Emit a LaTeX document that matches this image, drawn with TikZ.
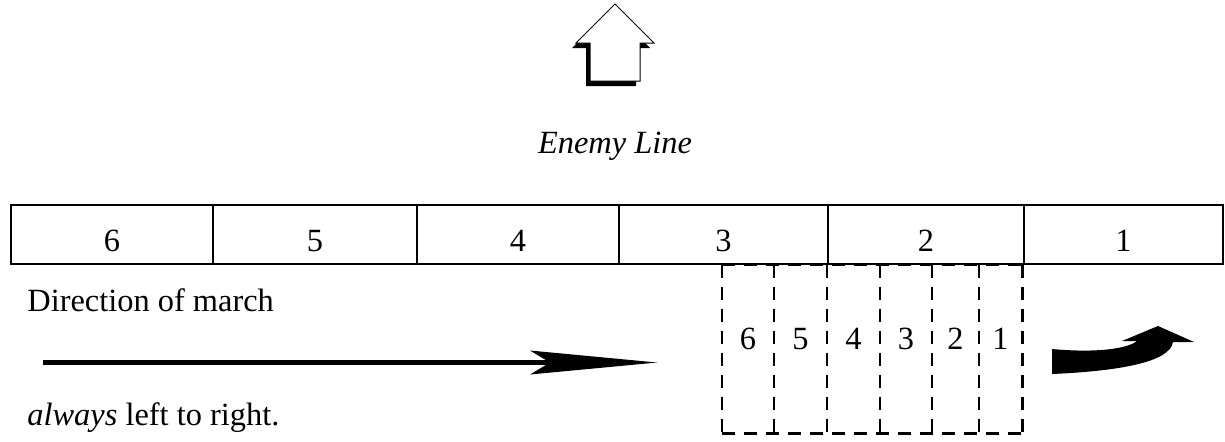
\documentclass[tikz,border=0pt]{standalone}
\usepackage{fontspec}
\setmainfont{Liberation Serif}
\tikzset{
  txt/.style={inner sep=0pt, font=\fontsize{16.2}{19}\selectfont},
  cell/.style={draw, line width=0.9pt, inner sep=0pt, minimum height=29.5pt},
  slot/.style={inner sep=0pt, minimum height=84pt},
  dashline/.style={line width=1.1pt, dash pattern=on 6.5pt off 4.5pt},
}
\begin{document}
\begin{tikzpicture}[x=0.5pt, y=-0.5pt]
\useasboundingbox (0,0) rectangle (1225,441);

% shadowed up arrow
\fill[black] (611,9) -- (572,48) -- (586,48) -- (586,86) -- (636,86) -- (636,48) -- (650,48) -- cycle;
\filldraw[fill=white, draw=black, line width=0.5pt]
  (615,4) -- (576,43) -- (590,43) -- (590,81) -- (640,81) -- (640,43) -- (654,43) -- cycle;

\node[txt, anchor=base, font=\fontsize{16.2}{19}\selectfont\itshape] (enemy) at (615,153) {Enemy Line};

% front line: six sections
\foreach \n/\a/\b in {6/11/213, 5/213/417, 4/417/619, 3/619/828, 2/828/1024, 1/1024/1223} {
  \node[cell, minimum width={(\b-\a)*0.5pt}] (c\n) at ({(\a+\b)/2},234.5) {};
  \node[txt, anchor=base] (cn\n) at ({(\a+\b)/2},251.5) {\n};
}

% column of six slots
\foreach \n/\a/\b in {6/722/774, 5/774/827, 4/827/880, 3/880/932, 2/932/979, 1/979/1022} {
  \node[slot, minimum width={(\b-\a)*0.5pt}] (s\n) at ({(\a+\b)/2},349) {};
  \node[txt, anchor=base] (sn\n) at ({(\a+\b)/2},349) {\n};
}
\draw[dashline] (s6.north west) -- (s1.north east);
\draw[dashline] (s6.south west) -- (s1.south east);
\foreach \n in {6,5,4,3,2} \draw[dashline] (s\n.north west) -- (s\n.south west);
\draw[dashline] (s1.north west) -- (s1.south west);
\draw[dashline] (s1.north east) -- (s1.south east);

% direction of march
\node[txt, anchor=base west] (dir) at (27,311.5) {Direction of march};
\node[txt, anchor=base west] (always) at (27,425.5) {\textit{always} left to right.};
\coordinate (mstart) at (43,362.5);
\coordinate (mend) at (657,362.5);
\coordinate (mnotch) at (550,362.5);
\draw[line width=2.6pt] (mstart) -- (mnotch);
\fill[black] (mend) -- (530,350.5) -- (mnotch) -- (530,374.5) -- cycle;

% curved turning arrow
\fill[black] (1052,349) .. controls (1095,353) and (1127,349) .. (1137,341)
  -- (1122,341) -- (1158,326) -- (1194,342) -- (1173,342)
  .. controls (1170,362) and (1120,371) .. (1052,374) -- cycle;
\end{tikzpicture}
\end{document}
